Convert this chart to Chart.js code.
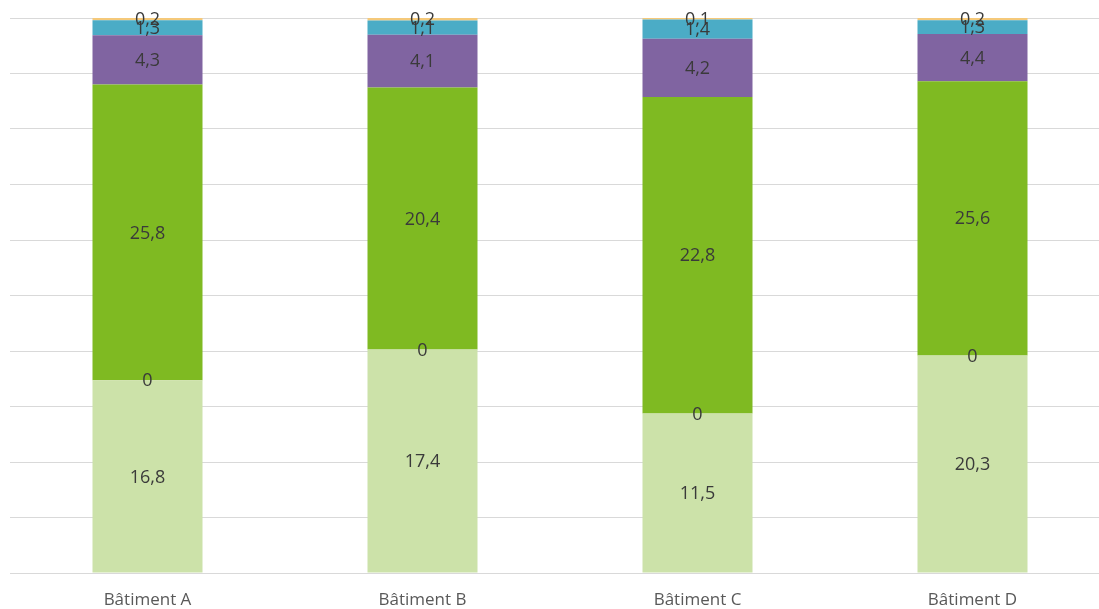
<!DOCTYPE html>
<html>
<head>
<meta charset="utf-8">
<script src="https://cdn.jsdelivr.net/npm/chart.js@4.4.1/dist/chart.umd.min.js"></script>
<style>
    html, body { margin: 0; padding: 0; background: #fff; overflow: hidden; }
    #wrap { width: 1110px; height: 609px; }
</style>
</head>
<body>
<div id="wrap"><canvas id="chart"></canvas></div>
<script>
const categories = ['Bâtiment A', 'Bâtiment B', 'Bâtiment C', 'Bâtiment D'];
const serie1 = [16.8, 17.4, 11.5, 20.3];
const serie2 = [0, 0, 0, 0];
const serie3 = [25.8, 20.4, 22.8, 25.6];
const serie4 = [4.3, 4.1, 4.2, 4.4];
const serie5 = [1.3, 1.1, 1.4, 1.3];
const serie6 = [0.2, 0.2, 0.1, 0.2];
const yTicks = [0, 10, 20, 30, 40, 50, 60, 70, 80, 90, 100];

const series = [serie1, serie2, serie3, serie4, serie5, serie6];
const colors = ['#CCE2A9', '#F79646', '#7FBA22', '#8064A1', '#4BACC6', '#F5C97A'];

// empilement à 100 %
const totals = categories.map((_, i) => series.reduce((acc, s) => acc + s[i], 0));
const toPct = (s) => s.map((v, i) => totals[i] ? v / totals[i] * 100 : 0);

const labelsPlugin = {
    id: 'barLabels',
    afterDatasetsDraw(chart) {
        const c = chart.ctx;
        c.save();
        c.font = '18px "Open Sans", "DejaVu Sans", sans-serif';
        c.fillStyle = '#3A3A3A';
        c.textAlign = 'center';
        c.textBaseline = 'middle';
        chart.data.datasets.forEach((ds, di) => {
            const meta = chart.getDatasetMeta(di);
            meta.data.forEach((bar, i) => {
                const y = (bar.y + bar.base) / 2 + 1;
                c.fillText(String(ds.raw[i]).replace('.', ','), bar.x, y);
            });
        });
        c.restore();
    }
};

new Chart(document.getElementById('chart'), {
    type: 'bar',
    data: {
        labels: categories,
        datasets: series.map((s, i) => ({
            label: 'Série ' + (i + 1),
            data: toPct(s),
            raw: s,
            backgroundColor: colors[i],
            borderWidth: 0,
            categoryPercentage: 0.8,
            barPercentage: 0.5
        }))
    },
    options: {
        responsive: true,
        maintainAspectRatio: false,
        animation: false,
        layout: { padding: { left: 10, right: 0, top: 18, bottom: 0 } },
        plugins: { legend: { display: false }, tooltip: { enabled: false } },
        scales: {
            x: {
                stacked: true,
                grid: { display: false },
                border: { color: '#D9D9D9' },
                ticks: { color: '#595959', font: { size: 17, family: '"Open Sans", sans-serif' }, padding: 9 },
                afterFit: (axis) => { axis.height = 36; }
            },
            y: {
                stacked: true,
                min: 0,
                max: 100,
                afterBuildTicks: (axis) => { axis.ticks = yTicks.map(v => ({ value: v })); },
                ticks: { display: false },
                border: { display: false },
                grid: { color: '#D9D9D9', drawTicks: false }
            }
        }
    },
    plugins: [labelsPlugin]
});
</script>
</body>
</html>
